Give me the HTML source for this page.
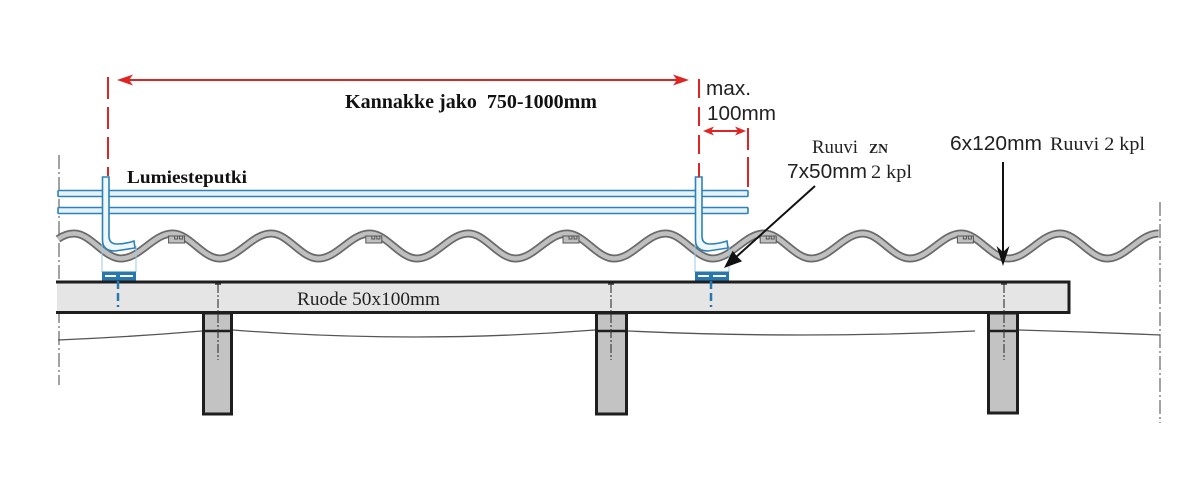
<!DOCTYPE html>
<html>
<head>
<meta charset="utf-8">
<style>
  html,body{margin:0;padding:0;background:#fff;}
  body{width:1200px;height:486px;overflow:hidden;}
  svg{display:block;}
  .serif{font-family:"Liberation Serif","DejaVu Serif",serif;}
  .sans{font-family:"Liberation Sans","DejaVu Sans",sans-serif;}
</style>
</head>
<body>
<svg width="1200" height="486" viewBox="0 0 1200 486" xmlns="http://www.w3.org/2000/svg">
  <rect x="0" y="0" width="1200" height="486" fill="#fff"/>

  <!-- dash-dot center lines -->
  <line x1="59" y1="155" x2="59" y2="385" stroke="#444" stroke-width="1" stroke-dasharray="14 3 2 3"/>
  <line x1="1160" y1="202" x2="1160" y2="423" stroke="#444" stroke-width="1" stroke-dasharray="14 3 2 3"/>

  <!-- sag lines -->
  <g fill="none" stroke="#555" stroke-width="1.3">
    <path d="M58,340 Q130,337 202,331"/>
    <path d="M233,330 Q414,344 595,330"/>
    <path d="M628,331 Q802,339 975,331"/>
    <path d="M1019,330 Q1090,332 1160,335"/>
  </g>

  <!-- posts -->
  <g fill="#c3c3c3" stroke="#1e1e1e" stroke-width="3">
    <rect x="203.5" y="313" width="28" height="101"/>
    <rect x="596.5" y="313" width="30" height="101"/>
    <rect x="988.5" y="313" width="29" height="100"/>
  </g>
  <g stroke="#1e1e1e" stroke-width="2.5">
    <line x1="203" y1="331" x2="232" y2="331"/>
    <line x1="596" y1="331" x2="627" y2="331"/>
    <line x1="988" y1="331" x2="1018" y2="331"/>
  </g>

  <!-- board (Ruode) -->
  <rect x="57" y="281" width="1013" height="32" fill="#e5e5e5"/>
  <g stroke="#1e1e1e" stroke-width="3" fill="none">
    <line x1="56" y1="282" x2="1070" y2="282"/>
    <line x1="56" y1="312.5" x2="1070" y2="312.5"/>
    <line x1="1069" y1="280.5" x2="1069" y2="314"/>
  </g>

  <!-- board joints / screws -->
  <g stroke="#333" stroke-width="1.1" stroke-dasharray="9 2 2 2">
    <line x1="218" y1="284" x2="218" y2="360"/>
    <line x1="611" y1="284" x2="611" y2="360"/>
    <line x1="1004" y1="284" x2="1004" y2="360"/>
  </g>
  <g stroke="#333" stroke-width="1.5">
    <line x1="215" y1="284" x2="221" y2="284"/>
    <line x1="608" y1="284" x2="614" y2="284"/>
    <line x1="1001" y1="284" x2="1007" y2="284"/>
  </g>

  <text x="297" y="305" class="serif" font-size="19" fill="#222" textLength="143" lengthAdjust="spacingAndGlyphs">Ruode 50x100mm</text>

  <!-- corrugated sheet -->
  <path fill="none" stroke="#6a6a6a" stroke-width="8" d="M58,239 C63,235.5 68,233.5 74,233.5
    C91,233.5 104,258.5 121,258.5 C140,258.5 153.6,233.5 172.6,233.5
    C189.6,233.5 202.6,258.5 219.6,258.5 C238.6,258.5 252.2,233.5 271.2,233.5
    C288.2,233.5 301.2,258.5 318.2,258.5 C337.2,258.5 350.8,233.5 369.8,233.5
    C386.8,233.5 399.8,258.5 416.8,258.5 C435.8,258.5 449.4,233.5 468.4,233.5
    C485.4,233.5 498.4,258.5 515.4,258.5 C534.4,258.5 548,233.5 567,233.5
    C584,233.5 597,258.5 614,258.5 C633,258.5 646.6,233.5 665.6,233.5
    C682.6,233.5 695.6,258.5 712.6,258.5 C731.6,258.5 745.2,233.5 764.2,233.5
    C781.2,233.5 794.2,258.5 811.2,258.5 C830.2,258.5 843.8,233.5 862.8,233.5
    C879.8,233.5 892.8,258.5 909.8,258.5 C928.8,258.5 942.4,233.5 961.4,233.5
    C978.4,233.5 991.4,258.5 1008.4,258.5 C1027.4,258.5 1041,233.5 1060,233.5
    C1077,233.5 1090,258.5 1107,258.5 C1126,258.5 1139.6,233.5 1158.6,233.5"/>
  <path fill="none" stroke="#bfbfbf" stroke-width="4.5" d="M58,239 C63,235.5 68,233.5 74,233.5
    C91,233.5 104,258.5 121,258.5 C140,258.5 153.6,233.5 172.6,233.5
    C189.6,233.5 202.6,258.5 219.6,258.5 C238.6,258.5 252.2,233.5 271.2,233.5
    C288.2,233.5 301.2,258.5 318.2,258.5 C337.2,258.5 350.8,233.5 369.8,233.5
    C386.8,233.5 399.8,258.5 416.8,258.5 C435.8,258.5 449.4,233.5 468.4,233.5
    C485.4,233.5 498.4,258.5 515.4,258.5 C534.4,258.5 548,233.5 567,233.5
    C584,233.5 597,258.5 614,258.5 C633,258.5 646.6,233.5 665.6,233.5
    C682.6,233.5 695.6,258.5 712.6,258.5 C731.6,258.5 745.2,233.5 764.2,233.5
    C781.2,233.5 794.2,258.5 811.2,258.5 C830.2,258.5 843.8,233.5 862.8,233.5
    C879.8,233.5 892.8,258.5 909.8,258.5 C928.8,258.5 942.4,233.5 961.4,233.5
    C978.4,233.5 991.4,258.5 1008.4,258.5 C1027.4,258.5 1041,233.5 1060,233.5
    C1077,233.5 1090,258.5 1107,258.5 C1126,258.5 1139.6,233.5 1158.6,233.5"/>

  <!-- lap notches -->
  <g fill="#bfbfbf" stroke="#555" stroke-width="1">
    <g transform="translate(172.6,0)"><rect x="-4" y="236" width="16" height="7"/><path d="M2,236 v3 h3 v-3 M7,236 v3 h3 v-3" fill="none"/></g>
    <g transform="translate(369.8,0)"><rect x="-4" y="236" width="16" height="7"/><path d="M2,236 v3 h3 v-3 M7,236 v3 h3 v-3" fill="none"/></g>
    <g transform="translate(567,0)"><rect x="-4" y="236" width="16" height="7"/><path d="M2,236 v3 h3 v-3 M7,236 v3 h3 v-3" fill="none"/></g>
    <g transform="translate(764.2,0)"><rect x="-4" y="236" width="16" height="7"/><path d="M2,236 v3 h3 v-3 M7,236 v3 h3 v-3" fill="none"/></g>
    <g transform="translate(961.4,0)"><rect x="-4" y="236" width="16" height="7"/><path d="M2,236 v3 h3 v-3 M7,236 v3 h3 v-3" fill="none"/></g>
  </g>

  <!-- snow guard tubes -->
  <g fill="#e6f2f9" stroke="#2f82b8" stroke-width="1.6">
    <rect x="58" y="190.5" width="690" height="6" rx="1"/>
    <rect x="58" y="207.5" width="690" height="6" rx="1"/>
  </g>

  <!-- brackets -->
  <g>
    <path d="M102,244 V272 M136,246 V272" stroke="#9cc8e0" stroke-width="1" fill="none"/>
    <path d="M102.5,177 L102.5,240 Q102.5,251 115,251 L135,248 L134,241 Q125,244 117,244 Q109,244 109,236 L109,177 Z" fill="#eef7fc" stroke="#2f82b8" stroke-width="1.6"/>
    <rect x="102" y="271.5" width="34" height="9" fill="#2878b0"/>
    <line x1="105" y1="276" x2="116" y2="276" stroke="#fff" stroke-width="2"/>
    <line x1="120" y1="276" x2="133" y2="276" stroke="#fff" stroke-width="2"/>
    <line x1="118" y1="281" x2="118" y2="307" stroke="#2878b0" stroke-width="2.5" stroke-dasharray="8 4"/>
  </g>
  <g transform="translate(593,0)">
    <path d="M102,244 V272 M136,246 V272" stroke="#9cc8e0" stroke-width="1" fill="none"/>
    <path d="M102.5,177 L102.5,240 Q102.5,251 115,251 L135,248 L134,241 Q125,244 117,244 Q109,244 109,236 L109,177 Z" fill="#eef7fc" stroke="#2f82b8" stroke-width="1.6"/>
    <rect x="102" y="271.5" width="34" height="9" fill="#2878b0"/>
    <line x1="105" y1="276" x2="116" y2="276" stroke="#fff" stroke-width="2"/>
    <line x1="120" y1="276" x2="133" y2="276" stroke="#fff" stroke-width="2"/>
    <line x1="118" y1="281" x2="118" y2="307" stroke="#2878b0" stroke-width="2.5" stroke-dasharray="8 4"/>
  </g>

  <text x="127" y="183" class="serif" font-size="18" font-weight="bold" fill="#111" textLength="120" lengthAdjust="spacingAndGlyphs">Lumiesteputki</text>

  <!-- red dimensions -->
  <g stroke="#e02424" stroke-width="2" fill="none">
    <line x1="120" y1="80" x2="686" y2="80"/>
    <line x1="108" y1="77" x2="108" y2="176" stroke-dasharray="22 8"/>
    <line x1="699" y1="79" x2="699" y2="177" stroke-dasharray="19 9"/>
    <line x1="748" y1="128" x2="748" y2="187" stroke-dasharray="22 7 30"/>
    <line x1="706" y1="131" x2="742" y2="131"/>
  </g>
  <g fill="#e02424">
    <polygon points="117,80 133,74.5 129,80 133,85.5"/>
    <polygon points="689,80 673,74.5 677,80 673,85.5"/>
    <polygon points="703,131 714,126.5 711,131 714,135.5"/>
    <polygon points="746,131 735,126.5 738,131 735,135.5"/>
  </g>

  <text x="345" y="108" class="serif" font-size="20" font-weight="bold" fill="#111" textLength="252" lengthAdjust="spacingAndGlyphs">Kannakke jako&#160; 750-1000mm</text>
  <text x="706" y="95" class="sans" font-size="20" fill="#222" textLength="45" lengthAdjust="spacingAndGlyphs">max.</text>
  <text x="707" y="120" class="sans" font-size="20" fill="#222" textLength="69" lengthAdjust="spacingAndGlyphs">100mm</text>

  <!-- screw labels -->
  <text x="812" y="153" class="serif" font-size="19" fill="#222" textLength="46" lengthAdjust="spacingAndGlyphs">Ruuvi</text>
  <text x="869" y="153" class="serif" font-size="14" font-weight="bold" fill="#222" textLength="19" lengthAdjust="spacingAndGlyphs">ZN</text>
  <text x="787" y="178" class="sans" font-size="20" fill="#222" textLength="80" lengthAdjust="spacingAndGlyphs">7x50mm</text>
  <text x="871" y="178" class="serif" font-size="19" fill="#222" textLength="41" lengthAdjust="spacingAndGlyphs">2 kpl</text>
  <text x="950" y="150" class="sans" font-size="20" fill="#222" textLength="92" lengthAdjust="spacingAndGlyphs">6x120mm</text>
  <text x="1050" y="150" class="serif" font-size="19" fill="#222" textLength="95" lengthAdjust="spacingAndGlyphs">Ruuvi 2 kpl</text>

  <!-- black arrows -->
  <line x1="815" y1="186" x2="735" y2="258" stroke="#111" stroke-width="2"/>
  <polygon points="724,268 732.7,250.8 737,256.5 742.1,261.2" fill="#111"/>
  <line x1="1003" y1="162" x2="1003" y2="252" stroke="#111" stroke-width="2"/>
  <polygon points="1003,266 996.5,246 1003,252 1009.5,246" fill="#111"/>
</svg>
</body>
</html>
